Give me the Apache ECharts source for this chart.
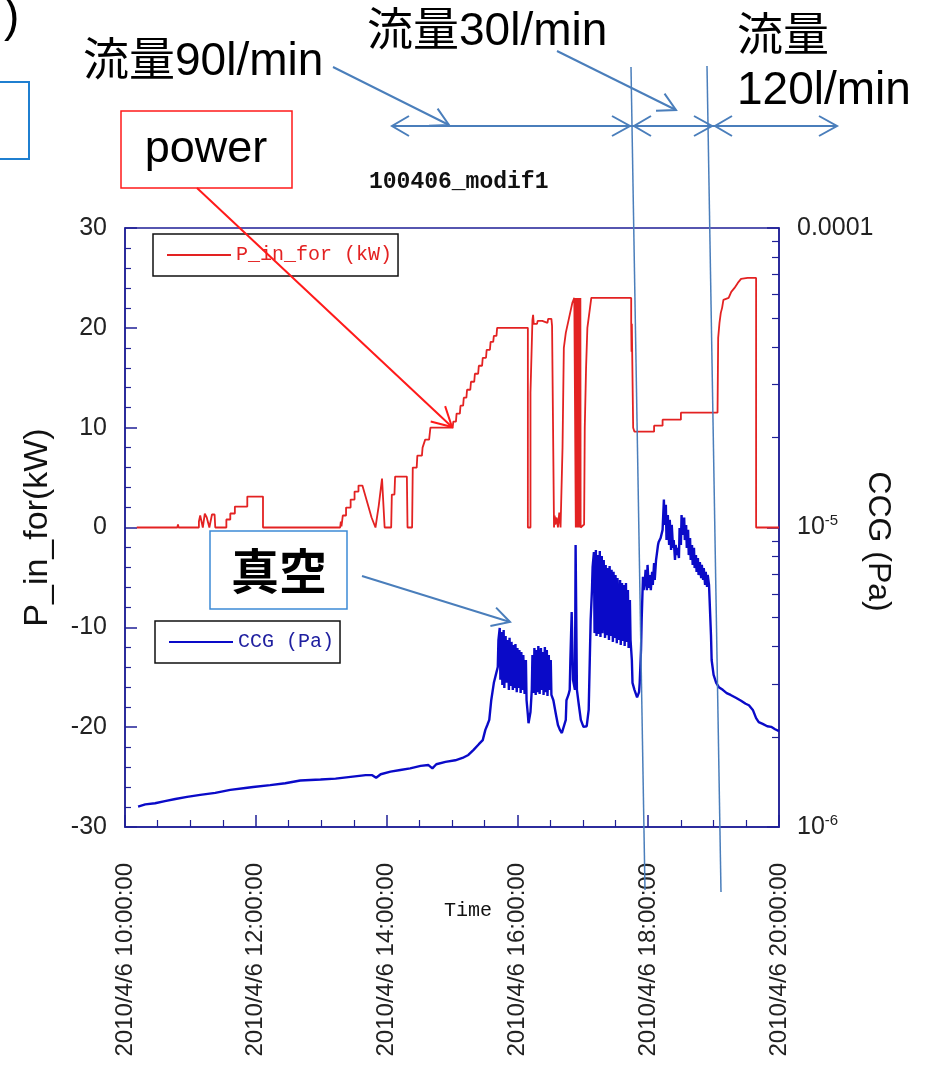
<!DOCTYPE html>
<html>
<head>
<meta charset="utf-8">
<script src="https://cdn.jsdelivr.net/npm/echarts@6/dist/echarts.min.js"></script>
<style>
  html, body { margin: 0; padding: 0; background: #fff; }
  #chart { width: 937px; height: 1085px; }
</style>
</head>
<body>
<div id="chart"></div>
<script>
// Time in hours of 2010/4/6, power in kW
const powerKW = [
  [10.18,0],[10.80,0],[10.81,0.3],[10.82,0],[11.13,0],[11.13,0.6],[11.15,1.2],[11.18,1.2],[11.19,0],[11.21,0],
  [11.22,1.4],[11.25,1.0],[11.28,1.0],[11.29,0],[11.32,0],[11.33,1.3],[11.37,1.3],[11.38,0],[11.55,0],[11.55,0.8],
  [11.61,0.8],[11.61,1.4],[11.68,1.4],[11.68,2.1],[11.87,2.1],[11.87,3.1],[12.11,3.1],[12.11,0],
  [13.29,0],[13.30,0.6],[13.31,0.1],[13.33,1.2],[13.38,1.2],[13.38,2.0],[13.45,2.0],[13.45,2.8],[13.51,2.8],[13.51,3.6],
  [13.57,3.6],[13.57,4.2],[13.63,4.2],[13.70,2.6],[13.77,1.0],[13.83,0],[13.85,0],[13.88,2.2],[13.93,4.9],[13.96,4.9],
  [13.97,0],[14.07,0],[14.08,3.3],[14.12,3.3],[14.13,5.1],[14.31,5.1],[14.32,0],[14.39,0],[14.40,6.0],[14.46,6.0],
  [14.47,7.2],[14.54,7.2],[14.55,8.0],[14.58,8.0],[14.59,8.8],[14.65,8.8],[14.67,10.0],[15.01,10.0],
  [15.02,10.6],[15.06,10.6],[15.07,11.4],[15.12,11.4],[15.13,12.2],[15.17,12.2],[15.18,13.0],[15.22,13.0],[15.23,13.8],
  [15.28,13.8],[15.29,14.6],[15.34,14.6],[15.35,15.4],[15.40,15.4],[15.41,16.2],[15.46,16.2],[15.47,17.0],[15.52,17.0],
  [15.53,17.8],[15.58,17.8],[15.59,18.6],[15.63,18.6],[15.64,19.2],[15.68,19.2],[15.69,20.0],[16.16,20.0],[16.16,0],
  [16.20,0],[16.20,13.5],[16.22,13.5],[16.23,20.8],[16.24,21.3],[16.25,20.4],[16.30,20.4],[16.31,20.7],[16.38,20.7],
  [16.39,20.5],[16.46,20.5],[16.47,20.9],[16.52,20.9],[16.53,20.2],[16.55,20.2],[16.56,0],[16.57,1.2],[16.58,0.3],
  [16.60,1.0],[16.62,0],[16.64,1.5],[16.66,0],[16.68,0],[16.69,8.0],[16.71,18.0],[16.74,19.5],[16.79,21.0],[16.84,22.5],
  [16.87,23.0],[16.89,23],[16.893,0],[16.897,23],[16.90,0],[16.903,22.6],[16.907,0],[16.91,23],[16.913,0],[16.917,23],
  [16.92,0],[16.923,22.8],[16.927,0],[16.93,23],[16.933,0],[16.937,23],[16.94,0],[16.943,22.5],[16.947,0],[16.95,23],
  [16.953,0],[16.957,22.8],[16.96,0],[16.963,23],[16.967,0],[16.97,0],[17.02,0.3],[17.03,10.0],[17.05,16.0],
  [17.07,20.0],[17.11,22.0],[17.13,23.0],[17.74,23.0],[17.74,20.5],[17.745,17.6],[17.75,20.4],[17.755,17.6],
  [17.77,10.0],[17.79,9.6],[18.09,9.6],[18.09,10.2],[18.22,10.2],[18.22,10.8],[18.50,10.8],[18.50,11.5],[19.06,11.5],
  [19.07,19.0],[19.09,20.5],[19.11,21.5],[19.13,22.0],[19.15,22.8],[19.23,23.0],[19.27,23.6],[19.32,24.0],[19.37,24.5],
  [19.42,24.9],[19.52,25.0],[19.65,25.0],[19.65,0],[20.00,0]
];

// Time in hours of 2010/4/6, CCG pressure in Pa
const ccgPa = [
  [10.20,1.17e-6],[10.31,1.19e-6],[10.46,1.20e-6],[10.61,1.22e-6],[10.77,1.24e-6],[10.95,1.26e-6],[11.15,1.28e-6],
  [11.38,1.30e-6],[11.61,1.33e-6],[11.84,1.35e-6],[11.96,1.36e-6],[12.22,1.38e-6],[12.45,1.40e-6],[12.68,1.43e-6],
  [12.99,1.44e-6],[13.22,1.45e-6],[13.45,1.47e-6],[13.68,1.49e-6],[13.78,1.49e-6],[13.84,1.46e-6],[13.91,1.50e-6],
  [14.06,1.53e-6],[14.21,1.55e-6],[14.36,1.57e-6],[14.52,1.60e-6],[14.64,1.61e-6],[14.70,1.57e-6],[14.76,1.62e-6],
  [14.90,1.65e-6],[15.05,1.67e-6],[15.16,1.70e-6],[15.25,1.74e-6],[15.33,1.81e-6],[15.41,1.89e-6],[15.47,1.95e-6],
  [15.51,2.11e-6],[15.54,2.19e-6],[15.57,2.28e-6],[15.60,2.65e-6],[15.64,3.03e-6],[15.67,3.22e-6],[15.70,3.42e-6],
  [15.71,4.21e-6],
  [15.73,4.62e-6],[15.74,3.10e-6],[15.76,4.48e-6],[15.77,2.98e-6],[15.79,4.55e-6],[15.80,2.91e-6],[15.82,4.34e-6],
  [15.83,3.03e-6],[15.85,4.21e-6],[15.87,2.87e-6],[15.88,4.28e-6],[15.90,2.96e-6],[15.91,4.15e-6],[15.93,2.87e-6],
  [15.94,4.05e-6],[15.96,2.91e-6],[15.97,4.08e-6],[15.99,2.82e-6],[16.00,3.96e-6],[16.02,2.91e-6],[16.03,3.90e-6],
  [16.05,2.80e-6],[16.06,3.84e-6],[16.08,2.87e-6],[16.09,3.75e-6],[16.11,2.78e-6],[16.13,3.61e-6],
  [16.14,2.65e-6],[16.16,2.37e-6],[16.17,2.22e-6],[16.19,2.19e-6],[16.20,2.42e-6],[16.22,2.87e-6],
  [16.23,3.75e-6],[16.25,2.80e-6],[16.26,3.96e-6],[16.28,2.76e-6],[16.29,3.90e-6],[16.31,2.82e-6],[16.32,4.02e-6],
  [16.34,2.78e-6],[16.36,3.96e-6],[16.37,2.87e-6],[16.39,3.84e-6],[16.40,2.76e-6],[16.42,3.99e-6],[16.43,2.82e-6],
  [16.45,3.90e-6],[16.46,2.74e-6],[16.48,3.75e-6],[16.49,2.87e-6],[16.51,3.61e-6],[16.52,2.76e-6],
  [16.55,2.65e-6],[16.59,2.37e-6],[16.62,2.19e-6],[16.65,2.11e-6],[16.68,2.06e-6],[16.71,2.08e-6],[16.74,2.28e-6],
  [16.75,2.65e-6],[16.78,2.76e-6],[16.80,2.87e-6],[16.81,3.61e-6],[16.83,5.22e-6],[16.85,3.10e-6],[16.88,2.87e-6],
  [16.89,8.74e-6],[16.91,2.87e-6],[16.94,2.55e-6],[16.97,2.28e-6],[17.01,2.16e-6],[17.06,2.17e-6],[17.09,2.46e-6],
  [17.11,3.90e-6],[17.12,4.91e-6],[17.14,6.18e-6],[17.15,7.38e-6],
  [17.17,8.28e-6],[17.18,4.44e-6],[17.20,8.41e-6],[17.21,4.34e-6],[17.23,8.09e-6],[17.24,4.41e-6],[17.26,8.35e-6],
  [17.27,4.31e-6],[17.29,8.03e-6],[17.30,4.44e-6],[17.32,7.79e-6],[17.34,4.28e-6],[17.35,7.50e-6],[17.37,4.37e-6],
  [17.38,7.32e-6],[17.40,4.21e-6],[17.41,7.44e-6],[17.43,4.34e-6],[17.44,7.22e-6],[17.46,4.15e-6],[17.47,7.11e-6],
  [17.49,4.28e-6],[17.50,6.94e-6],[17.52,4.11e-6],[17.53,6.78e-6],[17.55,4.21e-6],[17.57,6.68e-6],[17.58,4.05e-6],
  [17.60,6.53e-6],[17.61,4.18e-6],[17.63,6.43e-6],[17.64,4.02e-6],[17.66,6.53e-6],[17.67,4.15e-6],[17.69,6.18e-6],
  [17.70,3.96e-6],[17.72,5.73e-6],[17.73,4.21e-6],
  [17.75,3.61e-6],[17.76,3.03e-6],[17.79,2.87e-6],[17.83,2.71e-6],[17.86,2.82e-6],[17.87,3.03e-6],[17.89,3.90e-6],
  [17.90,4.91e-6],[17.92,6.84e-6],[17.93,6.18e-6],[17.95,6.68e-6],[17.96,7.22e-6],[17.98,6.18e-6],[17.99,7.50e-6],
  [18.01,6.28e-6],[18.02,6.94e-6],[18.04,6.18e-6],[18.06,7.11e-6],[18.07,6.43e-6],[18.09,7.61e-6],[18.10,6.68e-6],
  [18.12,7.79e-6],[18.13,8.09e-6],[18.15,8.74e-6],[18.16,8.95e-6],[18.19,9.23e-6],[18.22,9.82e-6],
  [18.24,1.24e-5],[18.25,1.02e-5],[18.27,1.19e-5],[18.28,9.08e-6],[18.30,1.10e-5],[18.32,8.74e-6],[18.33,1.06e-5],
  [18.35,8.41e-6],[18.36,1.02e-5],[18.38,8.55e-6],[18.39,9.08e-6],[18.41,7.79e-6],[18.42,8.74e-6],[18.44,8.09e-6],
  [18.45,8.55e-6],[18.47,7.91e-6],[18.48,9.96e-6],[18.50,8.74e-6],[18.51,1.10e-5],[18.53,9.44e-6],[18.55,1.08e-5],
  [18.56,9.08e-6],[18.58,1.02e-5],[18.59,8.55e-6],[18.61,9.82e-6],[18.62,8.09e-6],[18.64,9.23e-6],[18.65,7.79e-6],
  [18.67,8.74e-6],[18.68,7.50e-6],[18.70,8.55e-6],[18.71,7.32e-6],[18.73,8.09e-6],[18.74,7.11e-6],[18.76,7.91e-6],
  [18.77,6.94e-6],[18.79,7.67e-6],[18.81,6.78e-6],[18.82,7.50e-6],[18.84,6.68e-6],[18.85,7.32e-6],[18.87,6.43e-6],
  [18.88,7.11e-6],[18.90,6.33e-6],[18.91,6.94e-6],[18.93,6.43e-6],
  [18.96,4.37e-6],[18.97,3.61e-6],[19.00,3.22e-6],[19.04,3.03e-6],[19.08,2.93e-6],[19.14,2.87e-6],[19.20,2.80e-6],
  [19.26,2.76e-6],[19.34,2.70e-6],[19.42,2.64e-6],[19.49,2.58e-6],[19.54,2.55e-6],[19.60,2.46e-6],[19.65,2.31e-6],
  [19.69,2.24e-6],[19.75,2.21e-6],[19.82,2.17e-6],[19.88,2.16e-6],[19.94,2.12e-6],[20.00,2.09e-6]
];

// Axis ranges and tick labels
const dateLabel = '2010/4/6';
const timeRange = [10, 20];
const powerRange = [-30, 30];
const pressureRange = [1e-6, 1e-4];
const pressureMinorTicks = [2e-6,3e-6,4e-6,5e-6,6e-6,7e-6,8e-6,9e-6,2e-5,3e-5,4e-5,5e-5,6e-5,7e-5,8e-5,9e-5];

const AXIS = '#1f1f96';
const RED = '#e32222';
const NAVY = '#0a0ac8';
const NOTE_BLUE = '#4a7ebb';
const SANS = '"Liberation Sans", Arial, "Noto Sans CJK JP", sans-serif';
const MONO = '"Liberation Mono", "DejaVu Sans Mono", monospace';

const chart = echarts.init(document.getElementById('chart'), null, { renderer: 'canvas' });

function fmtHour(v) {
  return dateLabel + ' ' + v + ':00:00';
}
function fmtPressure(v) {
  const e = Math.round(Math.log10(v));
  if (e === -4) return '{b|0.0001}';
  return '{b|10}{s|' + e + '}';
}

// open-V arrow: a shaft plus a two-stroke head at (x2, y2)
function arrow(x1, y1, x2, y2, color, width, len) {
  const a = Math.atan2(y2 - y1, x2 - x1), s = 0.5;
  return [
    { type: 'line', z: 100, shape: { x1, y1, x2, y2 }, style: { stroke: color, lineWidth: width } },
    { type: 'polyline', z: 100, shape: { points: [
        [x2 - len * Math.cos(a - s), y2 - len * Math.sin(a - s)], [x2, y2],
        [x2 - len * Math.cos(a + s), y2 - len * Math.sin(a + s)] ] },
      style: { stroke: color, lineWidth: width, fill: null } }
  ];
}
function head(x, y, dir, color, len) {
  // dir: +1 points right, -1 points left
  return { type: 'polyline', z: 100, shape: { points: [[x - dir * len, y - 10], [x, y], [x - dir * len, y + 10]] },
           style: { stroke: color, lineWidth: 2, fill: null } };
}
function note(text, x, y, size, extra) {
  return Object.assign({ type: 'text', z: 100, style: Object.assign({
    text, x, y, fill: '#000', font: 'normal ' + size + 'px ' + SANS, verticalAlign: 'middle' }, extra || {}) });
}

const graphics = [
  note(')', 4, 18, 46),
  { type: 'rect', z: 100, shape: { x: -5, y: 82, width: 34, height: 77 }, style: { stroke: '#1f7fd0', lineWidth: 2, fill: null } },
  note('流量90l/min', 83, 62, 46),
  note('流量30l/min', 367, 32, 46),
  note('流量', 737, 37, 46),
  note('120l/min', 737, 91, 46),
  // power callout
  { type: 'rect', z: 100, shape: { x: 121, y: 111, width: 171, height: 77 }, style: { stroke: '#ff1a1a', lineWidth: 1.5, fill: '#fff' } },
  note('power', 206, 150, 45, { align: 'center' }),
  ...arrow(197, 188, 452, 427, '#ff1a1a', 2, 22),
  // vacuum callout
  { type: 'rect', z: 100, shape: { x: 210, y: 531, width: 137, height: 78 }, style: { stroke: '#3c8ad6', lineWidth: 1.5, fill: '#fff' } },
  note('真空', 279, 571, 48, { align: 'center', font: 'bold 48px "Noto Sans CJK JP", sans-serif' }),
  ...arrow(362, 576, 510, 622, NOTE_BLUE, 2, 20),
  // flow-rate arrows
  ...arrow(333, 67, 449, 125, NOTE_BLUE, 2, 20),
  ...arrow(557, 51, 676, 110, NOTE_BLUE, 2, 20),
  { type: 'line', z: 100, shape: { x1: 392, y1: 126, x2: 837, y2: 126 }, style: { stroke: NOTE_BLUE, lineWidth: 2 } },
  head(392, 126, -1, NOTE_BLUE, 17),
  head(630, 126, 1, NOTE_BLUE, 18),
  head(634, 126, -1, NOTE_BLUE, 17),
  head(712, 126, 1, NOTE_BLUE, 18),
  head(715, 126, -1, NOTE_BLUE, 17),
  head(837, 126, 1, NOTE_BLUE, 18),
  { type: 'line', z: 100, shape: { x1: 631, y1: 67, x2: 645, y2: 890 }, style: { stroke: NOTE_BLUE, lineWidth: 1.5 } },
  { type: 'line', z: 100, shape: { x1: 707, y1: 66, x2: 721, y2: 892 }, style: { stroke: NOTE_BLUE, lineWidth: 1.5 } }
];

const legendBase = {
  orient: 'horizontal', icon: 'rect', itemWidth: 64, itemHeight: 2,
  borderColor: '#111', borderWidth: 1.5, borderRadius: 0, backgroundColor: '#fff',
  padding: [11, 6, 11, 14], selectedMode: false
};

chart.setOption({
  animation: false,
  backgroundColor: '#fff',
  title: {
    text: '100406_modif1', left: 364, top: 166,
    textStyle: { fontFamily: MONO, fontWeight: 'bold', fontSize: 23, color: '#111' }
  },
  grid: { left: 125, right: 158, top: 228, bottom: 258, show: true, borderColor: AXIS, borderWidth: 1.5 },
  legend: [
    Object.assign({}, legendBase, { left: 153, top: 234, data: ['P_in_for (kW)'],
      textStyle: { fontFamily: MONO, fontSize: 20, color: RED } }),
    Object.assign({}, legendBase, { left: 155, top: 621, data: ['CCG (Pa)'],
      textStyle: { fontFamily: MONO, fontSize: 20, color: '#2020a0' } })
  ],
  xAxis: {
    type: 'value', min: timeRange[0], max: timeRange[1], interval: 2,
    name: 'Time', nameLocation: 'middle', nameGap: 74, nameMoveOverlap: false,
    nameTextStyle: { fontFamily: MONO, fontSize: 20, color: '#111', padding: [0, 0, 0, 32] },
    axisLine: { onZero: false, lineStyle: { color: AXIS, width: 1.5 } },
    axisTick: { inside: true, length: 12, lineStyle: { color: AXIS, width: 1.5 } },
    minorTick: { show: true, splitNumber: 4, length: 7, lineStyle: { color: AXIS, width: 1.2 } },
    splitLine: { show: false },
    axisLabel: { rotate: 90, margin: 36, formatter: fmtHour, fontFamily: SANS, fontSize: 24, color: '#222' }
  },
  yAxis: [
    {
      type: 'value', min: powerRange[0], max: powerRange[1], interval: 10, position: 'left',
      name: 'P_in_for(kW)', nameLocation: 'middle', nameGap: 70, nameRotate: 90, nameMoveOverlap: false,
      nameTextStyle: { fontFamily: SANS, fontSize: 34, color: '#111' },
      axisLine: { show: true, onZero: false, lineStyle: { color: AXIS, width: 1.5 } },
      axisTick: { inside: true, length: 12, lineStyle: { color: AXIS, width: 1.5 } },
      minorTick: { show: true, splitNumber: 5, length: 6, lineStyle: { color: AXIS, width: 1.2 } },
      splitLine: { show: false },
      axisLabel: { margin: 18, fontFamily: SANS, fontSize: 25, color: '#222' }
    },
    {
      type: 'log', logBase: 10, min: pressureRange[0], max: pressureRange[1], position: 'right',
      name: 'CCG (Pa)', nameLocation: 'middle', nameGap: 83, nameRotate: -90, nameMoveOverlap: false,
      nameTextStyle: { fontFamily: SANS, fontSize: 32, color: '#111', padding: [0, 0, 0, 28] },
      axisLine: { show: true, onZero: false, lineStyle: { color: AXIS, width: 1.5 } },
      axisTick: { inside: true, length: 12, lineStyle: { color: AXIS, width: 1.5 } },
      splitLine: { show: false },
      axisLabel: {
        margin: 18, formatter: fmtPressure, color: '#222',
        rich: {
          b: { fontFamily: SANS, fontSize: 25, color: '#222', lineHeight: 28 },
          s: { fontFamily: SANS, fontSize: 15, color: '#222', verticalAlign: 'top', lineHeight: 15 }
        }
      }
    },
    {
      type: 'log', logBase: 10, min: pressureRange[0], max: pressureRange[1], position: 'right',
      axisLine: { show: false, onZero: false }, axisLabel: { show: false }, splitLine: { show: false },
      axisTick: { show: true, inside: true, length: 7, customValues: pressureMinorTicks,
                  lineStyle: { color: AXIS, width: 1.2 } }
    }
  ],
  series: [
    {
      name: 'P_in_for (kW)', type: 'line', yAxisIndex: 0, data: powerKW,
      showSymbol: false, symbol: 'none',
      lineStyle: { color: RED, width: 1.8 }, itemStyle: { color: RED }, z: 3
    },
    {
      name: 'CCG (Pa)', type: 'line', yAxisIndex: 1, data: ccgPa,
      showSymbol: false, symbol: 'none',
      lineStyle: { color: NAVY, width: 2.4 }, itemStyle: { color: NAVY }, z: 2
    }
  ],
  graphic: graphics
});
</script>
</body>
</html>
